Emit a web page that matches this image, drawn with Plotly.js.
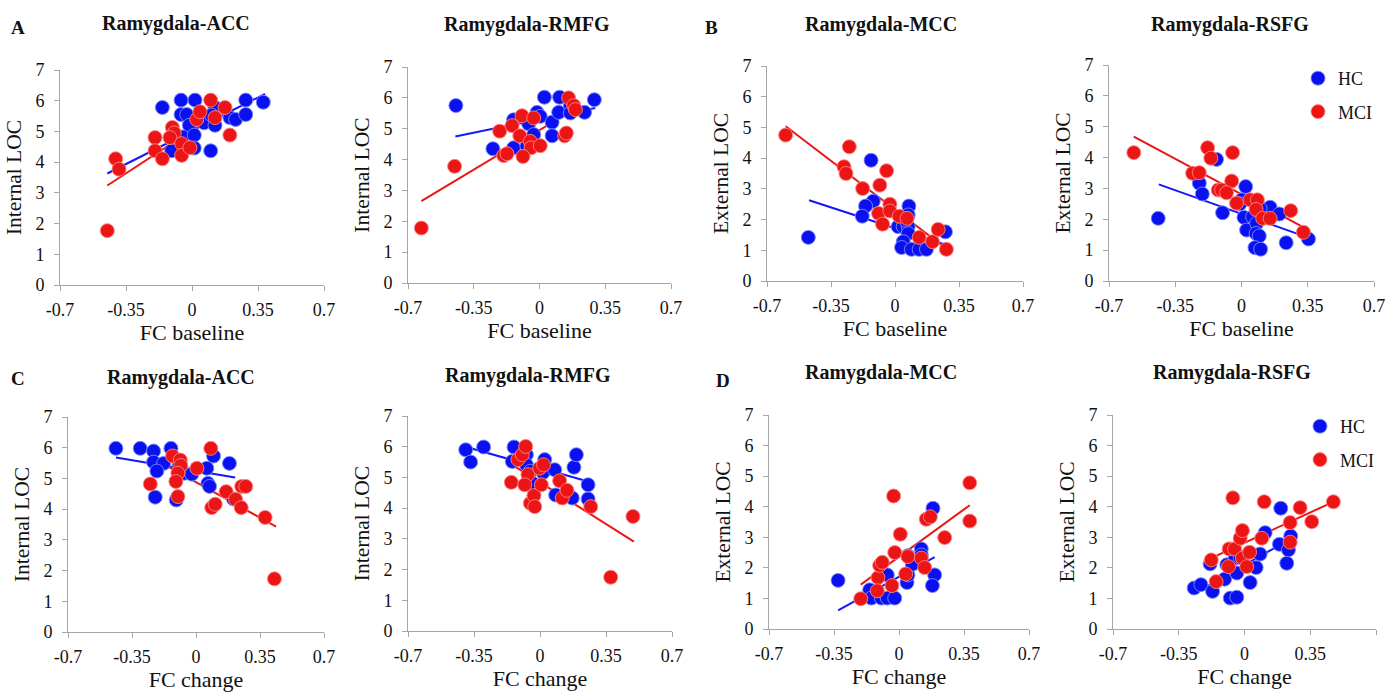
<!DOCTYPE html>
<html><head><meta charset="utf-8">
<script src="https://cdn.plot.ly/plotly-3.0.1.min.js"></script>
<style>html,body{margin:0;padding:0;background:#fff}#chart{width:1387px;height:693px}</style>
</head><body><div id="chart"></div>
<script>
// ---- Panel A1: Ramygdala-ACC, FC baseline vs Internal LOC
const a1_hc_x = [-0.157,-0.058,0.016,-0.058,-0.028,-0.014,-0.048,0.012,0.012,-0.108,0.099,0.064,0.122,0.122,0.104,0.201,0.231,0.285,0.285,0.378];
const a1_hc_y = [5.78,6.02,6.02,5.55,5.55,5.20,4.82,4.88,4.46,4.37,4.37,5.28,5.78,5.20,5.53,5.45,5.39,6.02,5.55,5.95];
const a1_mci_x = [-0.449,-0.405,-0.387,-0.196,-0.196,-0.157,-0.104,-0.094,-0.117,-0.055,-0.055,-0.011,0.025,0.042,0.099,0.122,0.175,0.201];
const a1_mci_y = [1.77,4.11,3.77,4.80,4.37,4.11,5.13,4.95,4.80,4.60,4.22,4.47,5.39,5.64,6.02,5.45,5.78,4.88];
const a1_hc_fit_x = [-0.449,0.387], a1_hc_fit_y = [3.63,6.22];
const a1_mci_fit_x = [-0.449,0.19], a1_mci_fit_y = [3.24,5.80];

// ---- Panel A2: Ramygdala-RMFG
const a2_hc_x = [-0.445,-0.248,-0.138,-0.138,-0.058,-0.031,-0.067,-0.013,0.004,0.026,0.067,0.067,0.107,0.102,0.164,0.164,0.240,0.292];
const a2_hc_y = [5.75,4.35,5.29,4.38,5.16,4.81,4.43,5.53,5.40,6.02,5.21,4.77,6.02,5.53,5.75,5.51,5.53,5.94];
const a2_mci_x = [-0.629,-0.452,-0.212,-0.146,-0.093,-0.031,-0.105,-0.049,-0.045,0.004,-0.191,-0.173,-0.088,0.134,0.143,0.155,0.182,0.191];
const a2_mci_y = [1.78,3.78,4.92,5.10,5.42,5.35,4.77,4.59,4.38,4.45,4.13,4.19,4.10,4.77,4.86,6.00,5.75,5.62];
const a2_hc_fit_x = [-0.448,0.297], a2_hc_fit_y = [4.75,5.67];
const a2_mci_fit_x = [-0.629,0.19], a2_mci_fit_y = [2.65,5.65];

// ---- Panel B1: Ramygdala-MCC, FC baseline vs External LOC
const b1_hc_x = [-0.474,-0.131,-0.119,-0.161,-0.179,0.076,0.072,0.017,0.045,0.072,0.072,0.045,0.036,0.090,0.132,0.172,0.276,0.059];
const b1_hc_y = [1.42,3.93,2.60,2.44,2.11,2.44,2.15,1.77,1.77,1.77,1.55,1.28,1.09,1.03,1.03,1.03,1.60,1.98];
const b1_mci_x = [-0.598,-0.250,-0.279,-0.268,-0.046,-0.083,-0.177,-0.090,-0.068,-0.028,-0.028,0.023,0.066,0.132,0.205,0.236,0.281];
const b1_mci_y = [4.75,4.37,3.72,3.50,3.59,3.12,3.01,2.20,1.85,2.50,2.28,2.11,2.04,1.42,1.28,1.68,1.03];
const b1_hc_fit_x = [-0.470,0.281], b1_hc_fit_y = [2.63,1.17];
const b1_mci_fit_x = [-0.598,0.281], b1_mci_fit_y = [5.04,1.05];

// ---- Panel B2: Ramygdala-RSFG
const b2_hc_x = [-0.440,-0.132,-0.223,-0.207,-0.100,0.022,0.001,-0.008,0.013,0.059,0.027,0.080,0.077,0.094,0.071,0.101,0.151,0.200,0.236,0.354,0.098];
const b2_hc_y = [2.03,3.94,3.17,2.82,2.21,3.06,2.63,2.50,2.06,2.08,1.65,1.87,1.54,1.46,1.08,1.03,2.39,2.17,1.24,1.36,2.35];
const b2_mci_x = [-0.569,-0.179,-0.162,-0.047,-0.258,-0.223,-0.052,-0.123,-0.105,-0.079,-0.026,0.045,0.084,0.077,0.112,0.151,0.260,0.327];
const b2_mci_y = [4.16,4.32,3.98,4.16,3.49,3.51,3.24,2.95,2.95,2.86,2.52,2.63,2.63,2.32,2.03,2.03,2.28,1.58];
const b2_hc_fit_x = [-0.437,0.345], b2_hc_fit_y = [3.13,1.42];
const b2_mci_fit_x = [-0.569,0.336], b2_mci_fit_y = [4.68,1.71];

// ---- Panel C1: Ramygdala-ACC, FC change vs Internal LOC
const c1_hc_x = [-0.438,-0.305,-0.232,-0.137,-0.232,-0.177,-0.214,-0.223,-0.108,-0.063,-0.023,-0.092,0.059,0.065,0.074,0.096,0.183,0.205];
const c1_hc_y = [5.98,5.98,5.89,5.98,5.53,5.49,5.24,4.39,4.30,5.17,5.14,5.44,5.33,4.84,4.74,5.73,5.49,4.33];
const c1_mci_x = [-0.250,-0.128,-0.086,-0.083,-0.099,-0.110,-0.099,0.005,0.081,0.086,0.105,0.165,0.216,0.247,0.250,0.272,0.378,0.429];
const c1_mci_y = [4.82,5.73,5.60,5.42,5.17,4.90,4.41,5.33,5.98,4.05,4.16,4.57,4.32,4.05,4.74,4.74,3.73,1.73];
const c1_hc_fit_x = [-0.438,0.214], c1_hc_fit_y = [5.68,5.03];
const c1_mci_fit_x = [-0.246,0.438], c1_mci_fit_y = [5.69,3.43];

// ---- Panel C2: Ramygdala-RMFG
const c2_hc_x = [-0.394,-0.368,-0.299,-0.138,-0.147,-0.072,-0.072,-0.051,-0.041,0.025,0.016,0.078,0.083,0.171,0.180,0.193,0.255,0.255];
const c2_hc_y = [5.90,5.50,5.99,5.99,5.52,5.74,5.41,5.20,4.82,5.58,5.16,5.25,4.43,4.33,5.33,5.74,4.76,4.30];
const c2_mci_x = [-0.152,-0.117,-0.094,-0.076,-0.064,-0.081,-0.051,-0.032,-0.028,-0.002,0.019,0.007,0.104,0.118,0.143,0.269,0.493,0.375];
const c2_mci_y = [4.84,5.58,5.74,6.01,5.09,4.76,4.16,4.41,4.05,5.30,5.41,4.76,4.89,4.33,4.58,4.05,3.73,1.75];
const c2_hc_fit_x = [-0.391,0.255], c2_hc_fit_y = [5.99,4.87];
const c2_mci_fit_x = [-0.147,0.498], c2_mci_fit_y = [5.41,2.91];

// ---- Panel D1: Ramygdala-MCC, FC change vs External LOC
const d1_hc_x = [-0.328,-0.158,-0.149,-0.095,-0.063,-0.023,-0.063,0.043,0.048,0.048,0.072,0.120,0.120,0.183,0.192,0.180];
const d1_hc_y = [1.59,1.28,1.01,1.01,1.01,1.01,1.77,1.52,1.77,2.40,2.12,2.62,2.42,3.95,1.77,1.42];
const d1_mci_x = [-0.206,-0.113,-0.117,-0.104,-0.090,-0.038,-0.029,-0.023,0.007,0.036,0.048,0.120,0.138,0.147,0.169,0.246,0.381,0.381];
const d1_mci_y = [0.99,1.68,1.25,2.08,2.18,1.42,4.35,2.50,3.10,1.80,2.37,2.32,2.01,3.59,3.67,2.99,4.78,3.53];
const d1_hc_fit_x = [-0.328,0.192], d1_hc_fit_y = [0.61,2.35];
const d1_mci_fit_x = [-0.206,0.381], d1_mci_fit_y = [1.45,4.05];

// ---- Panel D2: Ramygdala-RSFG
const d2_hc_x = [-0.268,-0.232,-0.170,-0.183,-0.106,-0.094,-0.076,-0.041,-0.041,-0.050,-0.023,0.030,0.062,0.083,0.110,0.186,0.193,0.225,0.234,0.246];
const d2_hc_y = [1.34,1.45,1.23,2.13,1.63,2.10,1.01,1.04,1.83,2.32,2.34,1.52,2.01,2.45,3.15,2.77,3.95,2.15,2.59,3.04];
const d2_mci_x = [-0.177,-0.151,-0.082,-0.053,-0.085,-0.062,-0.023,-0.011,-0.011,0.012,0.027,0.092,0.105,0.243,0.243,0.296,0.358,0.473];
const d2_mci_y = [2.26,1.55,2.62,2.62,2.04,4.29,2.97,3.22,2.32,2.04,2.51,2.97,4.16,3.48,2.84,3.97,3.51,4.16];
const d2_hc_fit_x = [-0.253,0.246], d2_hc_fit_y = [1.21,2.95];
const d2_mci_fit_x = [-0.177,0.473], d2_mci_fit_y = [2.32,4.16];

// ---- Labels
const panelTitles = ["Ramygdala-ACC","Ramygdala-RMFG","Ramygdala-MCC","Ramygdala-RSFG","Ramygdala-ACC","Ramygdala-RMFG","Ramygdala-MCC","Ramygdala-RSFG"];
const xTitles = ["FC baseline","FC baseline","FC baseline","FC baseline","FC change","FC change","FC change","FC change"];
const yTitles = ["Internal LOC","Internal LOC","External LOC","External LOC","Internal LOC","Internal LOC","External LOC","External LOC"];
const panelLetters = ["A","B","C","D"];
const xTickVals = [-0.7,-0.35,0,0.35,0.7];
const xTickText = ["-0.7","-0.35","0","0.35","0.7"];
const yTickVals = [0,1,2,3,4,5,6,7];
const groupNames = ["HC","MCI"];

// ---- Layout geometry (pixels)
const W = 1387, H = 693;
const boxes = [
  [60,324,70,285],[408,671,67,283],[767,1023,66,281],[1109,1374,65,281],
  [68,324,417,632],[408,672,416,631],[769,1029,415,629],[1113,1376,415,629]
];
const titlePos = [[176,23],[527,24],[881,24],[1230,24],[181,377],[528,375],[881,373],[1232,373]];
const letterPos = [[18,27],[711,27],[18,378],[723,380]];

const SERIF = 'Liberation Serif, Times New Roman, serif';
const BLUE = '#0a10f0', RED = '#ec1515';
const panels = [
  [a1_hc_x,a1_hc_y,a1_mci_x,a1_mci_y,a1_hc_fit_x,a1_hc_fit_y,a1_mci_fit_x,a1_mci_fit_y],
  [a2_hc_x,a2_hc_y,a2_mci_x,a2_mci_y,a2_hc_fit_x,a2_hc_fit_y,a2_mci_fit_x,a2_mci_fit_y],
  [b1_hc_x,b1_hc_y,b1_mci_x,b1_mci_y,b1_hc_fit_x,b1_hc_fit_y,b1_mci_fit_x,b1_mci_fit_y],
  [b2_hc_x,b2_hc_y,b2_mci_x,b2_mci_y,b2_hc_fit_x,b2_hc_fit_y,b2_mci_fit_x,b2_mci_fit_y],
  [c1_hc_x,c1_hc_y,c1_mci_x,c1_mci_y,c1_hc_fit_x,c1_hc_fit_y,c1_mci_fit_x,c1_mci_fit_y],
  [c2_hc_x,c2_hc_y,c2_mci_x,c2_mci_y,c2_hc_fit_x,c2_hc_fit_y,c2_mci_fit_x,c2_mci_fit_y],
  [d1_hc_x,d1_hc_y,d1_mci_x,d1_mci_y,d1_hc_fit_x,d1_hc_fit_y,d1_mci_fit_x,d1_mci_fit_y],
  [d2_hc_x,d2_hc_y,d2_mci_x,d2_mci_y,d2_hc_fit_x,d2_hc_fit_y,d2_mci_fit_x,d2_mci_fit_y]
];
const legendOf = {3:'legend', 7:'legend2'};

const traces = [];
const layout = {
  width: W, height: H, margin: {l:0,r:0,t:0,b:0},
  paper_bgcolor:'#fff', plot_bgcolor:'#fff',
  font: {family:SERIF, color:'#111'},
  annotations: [], showlegend: true
};

panels.forEach((p, i) => {
  const n = i + 1;
  const xa = n === 1 ? 'x' : 'x' + n, ya = n === 1 ? 'y' : 'y' + n;
  const lg = legendOf[i];
  traces.push({x:p[4], y:p[5], xaxis:xa, yaxis:ya, mode:'lines', line:{color:'#1515ff', width:2}, showlegend:false, hoverinfo:'skip'});
  traces.push({x:p[6], y:p[7], xaxis:xa, yaxis:ya, mode:'lines', line:{color:RED, width:2}, showlegend:false, hoverinfo:'skip'});
  traces.push({x:p[0], y:p[1], xaxis:xa, yaxis:ya, mode:'markers', name:groupNames[0],
    marker:{color:BLUE, size:14, line:{color:'rgba(120,140,255,0.9)', width:1}},
    showlegend: !!lg, legend: lg || 'legend', legendgroup: 'hc'+i, cliponaxis:false});
  traces.push({x:p[2], y:p[3], xaxis:xa, yaxis:ya, mode:'markers', name:groupNames[1],
    marker:{color:RED, size:14, line:{color:'rgba(255,130,130,0.9)', width:1}},
    showlegend: !!lg, legend: lg || 'legend', legendgroup: 'mci'+i, cliponaxis:false});

  const b = boxes[i];
  const axCommon = {showgrid:false, zeroline:false, showline:true, linecolor:'#a6a6a6', linewidth:1,
    ticks:'outside', ticklen:5, tickcolor:'#a6a6a6', tickfont:{family:SERIF, size:18, color:'#111'}, fixedrange:true};
  layout['xaxis' + (n===1?'':n)] = Object.assign({}, axCommon, {
    domain:[b[0]/W, b[1]/W], anchor: ya, range:[-0.7,0.7], tickmode:'array', tickvals:xTickVals, ticktext:xTickText,
    ticklabelstandoff:3,
    title:{text:xTitles[i], font:{family:SERIF, size:22, color:'#111'}, standoff:5}
  });
  layout['yaxis' + (n===1?'':n)] = Object.assign({}, axCommon, {
    domain:[(H-b[3])/H, (H-b[2])/H], anchor: xa, range:[0,7], tickmode:'array', tickvals:yTickVals,
    ticklabelstandoff:6,
    title:{text:yTitles[i], font:{family:SERIF, size:21.5, color:'#111'}, standoff:7}
  });
  layout.annotations.push({text:'<b>'+panelTitles[i]+'</b>', xref:'paper', yref:'paper',
    x:titlePos[i][0]/W, y:(H-titlePos[i][1])/H, xanchor:'center', yanchor:'middle', showarrow:false,
    font:{family:SERIF, size:20, color:'#111'}});
});
letterPos.forEach((lp, k) => {
  layout.annotations.push({text:'<b>'+panelLetters[k]+'</b>', xref:'paper', yref:'paper',
    x:lp[0]/W, y:(H-lp[1])/H, xanchor:'center', yanchor:'middle', showarrow:false,
    font:{family:SERIF, size:19, color:'#111'}});
});
const legendBase = {bgcolor:'rgba(0,0,0,0)', borderwidth:0, font:{family:SERIF, size:18, color:'#111'},
  xanchor:'left', yanchor:'top', traceorder:'grouped', tracegroupgap:7, itemwidth:30};
layout.legend = Object.assign({}, legendBase, {x:1298/W, y:(H-60)/H});
layout.legend2 = Object.assign({}, legendBase, {x:1300/W, y:(H-408)/H});

Plotly.newPlot('chart', traces, layout, {staticPlot:true, displayModeBar:false});
</script></body></html>
